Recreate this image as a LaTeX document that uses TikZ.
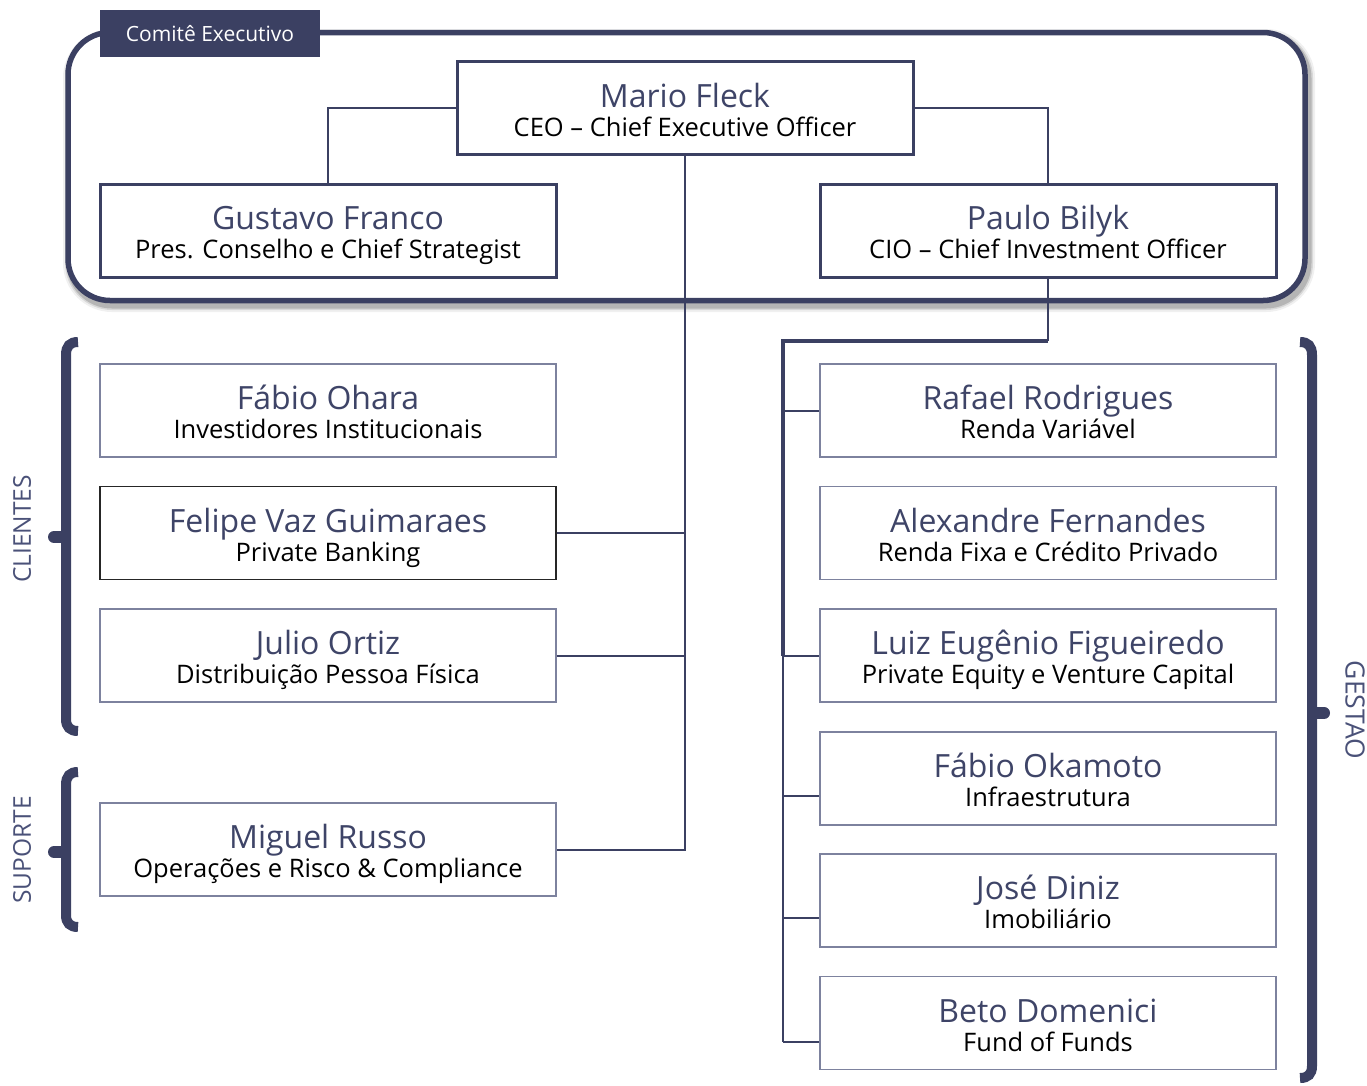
\documentclass[tikz,border=0pt]{standalone}
\usepackage{fontspec}
\setmainfont{Open Sans}
\definecolor{navy}{HTML}{3B4062}
\definecolor{namec}{HTML}{3E4467}
\definecolor{labelc}{HTML}{4A5178}
\definecolor{boxgray}{HTML}{7D829E}
\begin{document}
\begin{tikzpicture}[x=1pt,y=-1pt,
  topbox/.style={draw=navy, line width=3pt, fill=white, minimum width=456pt, minimum height=93pt, inner sep=0pt},
  subbox/.style={draw=boxgray, line width=1.4pt, minimum width=456pt, minimum height=93pt, inner sep=0pt},
  darkbox/.style={subbox, draw=black!85},
  pname/.style={anchor=base, text=namec, font=\fontsize{32}{36}\selectfont, inner sep=0pt},
  prole/.style={anchor=base, text=black, font=\fontsize{25.5}{28}\selectfont, inner sep=0pt},
  link/.style={draw=navy, line width=2pt},
  heavylink/.style={draw=navy, line width=4pt},
  brace/.style={draw=navy, line width=10pt},
  knob/.style={draw=navy, line width=12pt, line cap=round},
  grouplabel/.style={text=labelc, font=\fontsize{24.5}{28}\selectfont, inner sep=0pt},
]
\useasboundingbox (0,0) rectangle (1367,1085);

% person box: name, x, y, style, full name, role
\newcommand\orgbox[6]{%
  \node[#4] (#1) at (#2,#3) {};
  \node[pname] (#1-name) at ([yshift=1pt]#1.center) {#5};
  \node[prole] (#1-role) at ([yshift=-28pt]#1.center) {#6};
}

% executive committee frame with soft shadow
\foreach \w/\o in {14/0.06,10/0.10,7/0.16}{
  \draw[black, opacity=\o, line width=\w pt, rounded corners=42pt]
    (70,36) rectangle (1308,305);
}
\draw[navy, line width=5.5pt, rounded corners=42pt, fill=white] (68,32.5) rectangle (1305,300.5);
\node[fill=navy, minimum width=220pt, minimum height=47pt, inner sep=0pt,
      text=white, font=\fontsize{21}{24}\selectfont] (comite) at (210,33.5) {Comitê Executivo};

% committee members
\orgbox{mario}{685}{108}{topbox}{Mario Fleck}{CEO – Chief Executive Officer}
\orgbox{gustavo}{328}{230.5}{topbox}{Gustavo Franco}{Pres. Conselho e Chief Strategist}
\orgbox{paulo}{1048}{230.5}{topbox}{Paulo Bilyk}{CIO – Chief Investment Officer}

% clients and support
\orgbox{ohara}{328}{410.5}{subbox}{Fábio Ohara}{Investidores Institucionais}
\orgbox{felipe}{328}{533}{darkbox}{Felipe Vaz Guimaraes}{Private Banking}
\orgbox{julio}{328}{655.5}{subbox}{Julio Ortiz}{Distribuição Pessoa Física}
\orgbox{miguel}{328}{849.5}{subbox}{Miguel Russo}{Operações e Risco \& Compliance}

% asset management
\orgbox{rafael}{1048}{410.5}{subbox}{Rafael Rodrigues}{Renda Variável}
\orgbox{alexandre}{1048}{533}{subbox}{Alexandre Fernandes}{Renda Fixa e Crédito Privado}
\orgbox{luiz}{1048}{655.5}{subbox}{Luiz Eugênio Figueiredo}{Private Equity e Venture Capital}
\orgbox{okamoto}{1048}{778.5}{subbox}{Fábio Okamoto}{Infraestrutura}
\orgbox{jose}{1048}{900.5}{subbox}{José Diniz}{Imobiliário}
\orgbox{beto}{1048}{1023}{subbox}{Beto Domenici}{Fund of Funds}

% committee links
\draw[link, line width=1.6pt] (mario.west) -| (gustavo.north);
\draw[link, line width=1.6pt] (mario.east) -| (paulo.north);

% CEO branch
\draw[link] (mario.south) |- (miguel.east);
\draw[link] (felipe.east) -- (felipe.east -| mario.south);
\draw[link] (julio.east) -- (julio.east -| mario.south);

% CIO branch
\coordinate (gbus) at (783,341);
\draw[link, line width=2.4pt] (paulo.south) -- (paulo.south |- gbus);
\draw[heavylink] (paulo.south |- gbus) -- (gbus) -- (gbus |- luiz.west);
\draw[link, line width=2.4pt] (gbus |- luiz.west) -- ([yshift=-18.5pt]gbus |- beto.west);
\draw[link] (gbus |- rafael.west) -- (rafael.west);
\draw[link] (gbus |- luiz.west) -- (luiz.west);
\draw[link] ([yshift=-17pt]gbus |- okamoto.west) -- ([yshift=-17pt]okamoto.west);
\draw[link] ([yshift=-17pt]gbus |- jose.west) -- ([yshift=-17pt]jose.west);
\draw[link] ([yshift=-18.5pt]gbus |- beto.west) -- ([yshift=-18.5pt]beto.west);

% group braces
\draw[brace] (78,342) .. controls (70,342) and (66,346) .. (66,355) -- (66,719)
  .. controls (66,727) and (70,731) .. (78,731);
\draw[knob] (64,537) -- (54,537);
\draw[brace] (78,772) .. controls (70,772) and (66,776) .. (66,785) -- (66,915)
  .. controls (66,923) and (70,927) .. (78,927);
\draw[knob] (64,852) -- (54,852);
\draw[brace] (1300,342) .. controls (1308,342) and (1312,346) .. (1312,355) -- (1312,1066)
  .. controls (1312,1074) and (1308,1078) .. (1300,1078);
\draw[knob] (1314,713) -- (1324,713);

\node[grouplabel, rotate=90] (clientes) at (22,529) {CLIENTES};
\node[grouplabel, rotate=90] (suporte) at (22,850) {SUPORTE};
\node[grouplabel, rotate=-90, font=\fontsize{26.5}{30}\selectfont] (gestao) at (1355,710) {GESTAO};
\end{tikzpicture}
\end{document}
